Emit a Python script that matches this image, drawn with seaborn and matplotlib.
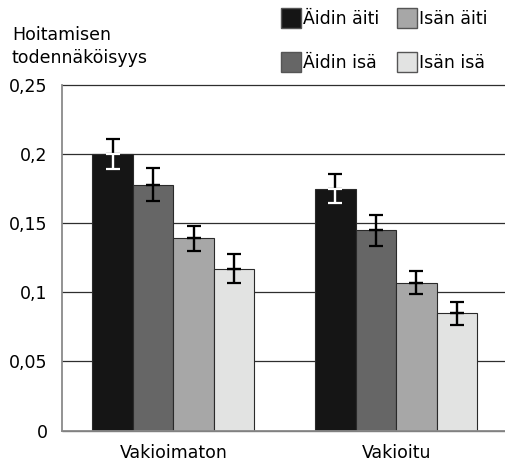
import matplotlib
matplotlib.use("Agg")
import matplotlib.pyplot as plt
from matplotlib.patches import Patch
import seaborn as sns
import pandas as pd

# Categories and series
categories = ["Vakioimaton", "Vakioitu"]
series_names = ["Äidin äiti", "Äidin isä", "Isän äiti", "Isän isä"]
aidin_aiti = [0.200, 0.175]
aidin_isa = [0.178, 0.145]
isan_aiti = [0.139, 0.107]
isan_isa = [0.117, 0.085]
# Half-widths of the error bars
aidin_aiti_err = [0.0107, 0.0104]
aidin_isa_err = [0.0120, 0.0112]
isan_aiti_err = [0.0088, 0.0083]
isan_isa_err = [0.0105, 0.0083]

y_ticks = [0, 0.05, 0.1, 0.15, 0.2, 0.25]
y_tick_labels = ["0", "0,05", "0,1", "0,15", "0,2", "0,25"]

colors = ["#151515", "#666666", "#a7a7a7", "#e2e3e2"]

values = [aidin_aiti, aidin_isa, isan_aiti, isan_isa]
errors = [aidin_aiti_err, aidin_isa_err, isan_aiti_err, isan_isa_err]

df = pd.DataFrame({
    "kategoria": [c for _ in series_names for c in categories],
    "sarja": [s for s in series_names for _ in categories],
    "arvo": [v for vals in values for v in vals],
})

sns.set_theme(style="white")
plt.rcParams["font.family"] = ["DejaVu Sans"]
plt.rcParams["text.color"] = "black"
FS = 12.5

fig = plt.figure(figsize=(5.05, 4.63), dpi=100)
ax = fig.add_axes([62 / 505, 1 - 430.5 / 463, 445.6 / 505, 345.5 / 463])

sns.barplot(data=df, x="kategoria", y="arvo", hue="sarja",
            order=categories, hue_order=series_names, palette=colors,
            width=0.727, errorbar=None, legend=False,
            edgecolor="#2a2a2a", linewidth=0.8, saturation=1, ax=ax)

# Error bars at the centre of each drawn bar; inside the black bars the lower
# half is drawn in white so it stays visible
for container, errs, col in zip(ax.containers, errors, colors):
    xs = [b.get_x() + b.get_width() / 2 for b in container]
    hs = [b.get_height() for b in container]
    lower_color = "white" if col == colors[0] else "black"
    ax.errorbar(xs, hs, yerr=[[0] * len(errs), errs], fmt="none",
                ecolor="black", elinewidth=1.7, capsize=4.8, capthick=1.6,
                zorder=5)
    ax.errorbar(xs, hs, yerr=[errs, [0] * len(errs)], fmt="none",
                ecolor=lower_color, elinewidth=1.7, capsize=4.8, capthick=1.6,
                zorder=5)

ax.set_xlim(-0.5, len(categories) - 0.5)
ax.set_ylim(0, 0.25)
ax.set_yticks(y_ticks)
ax.set_yticklabels(y_tick_labels)
ax.set_xlabel("")
ax.set_ylabel("")
ax.set_axisbelow(True)
ax.yaxis.grid(True, color="#2e2e2e", linewidth=0.9)
ax.xaxis.grid(False)
for g in ax.get_ygridlines():
    g.set_clip_on(False)
ax.tick_params(axis="both", length=0, labelsize=FS, colors="black")
ax.tick_params(axis="y", pad=10.5)
ax.tick_params(axis="x", pad=10)
for side in ["top", "right"]:
    ax.spines[side].set_visible(False)
for side in ["left", "bottom"]:
    ax.spines[side].set_color("#8a8a8a")
    ax.spines[side].set_linewidth(1.3)

# Axis title in two lines at the upper left
fig.text(12 / 505, 1 - 40 / 463, "Hoitamisen", fontsize=FS, color="black",
         va="baseline", ha="left")
fig.text(12 / 505, 1 - 63 / 463, "todennäköisyys", fontsize=FS, color="black",
         va="baseline", ha="left")

handles = [Patch(facecolor=c, edgecolor="#555555", linewidth=1.0) for c in colors]
fig.legend(handles, series_names, loc="upper left",
           bbox_to_anchor=(281 / 505, 1 - 8 / 463), ncol=2, frameon=False,
           fontsize=FS, labelcolor="black", handlelength=1.15, handleheight=1.4,
           handletextpad=0.12, columnspacing=1.0, labelspacing=1.4,
           borderpad=0, borderaxespad=0)

fig.savefig("out.png", dpi=100)
